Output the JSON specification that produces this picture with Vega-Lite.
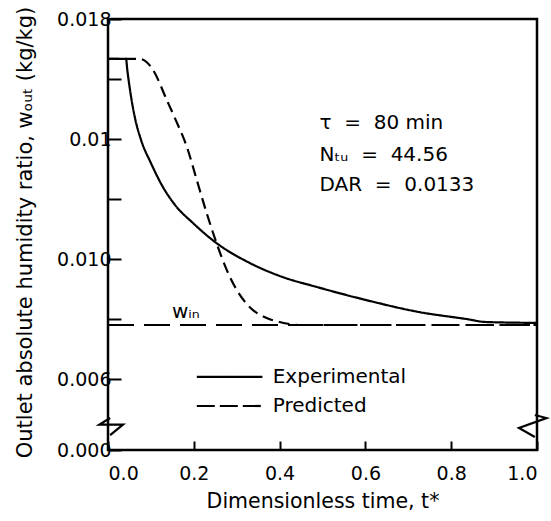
{
  "$schema": "https://vega.github.io/schema/vega-lite/v6.json",
  "width": 429,
  "height": 431,
  "autosize": {"type": "none"},
  "padding": {"left": 108, "top": 19, "right": 14, "bottom": 71},
  "background": "white",
  "config": {
    "font": "DejaVu Sans",
    "view": {"stroke": "black", "strokeWidth": 2.5},
    "axis": {
      "domain": false,
      "grid": false,
      "tickColor": "black",
      "tickWidth": 2,
      "labelColor": "black",
      "labelFont": "DejaVu Sans",
      "labelFontSize": 19,
      "titleFont": "DejaVu Sans",
      "titleFontWeight": "normal",
      "titleColor": "black"
    }
  },
  "datasets": {
    "curves": [
      {"series": "Experimental", "t": 0.0, "w": 0.01667},
      {"series": "Experimental", "t": 0.042, "w": 0.01667},
      {"series": "Experimental", "t": 0.045, "w": 0.0163},
      {"series": "Experimental", "t": 0.048, "w": 0.01597},
      {"series": "Experimental", "t": 0.055, "w": 0.0153},
      {"series": "Experimental", "t": 0.064, "w": 0.01463},
      {"series": "Experimental", "t": 0.077, "w": 0.01397},
      {"series": "Experimental", "t": 0.1, "w": 0.0132},
      {"series": "Experimental", "t": 0.128, "w": 0.0124},
      {"series": "Experimental", "t": 0.158, "w": 0.01177},
      {"series": "Experimental", "t": 0.198, "w": 0.0112},
      {"series": "Experimental", "t": 0.253, "w": 0.01053},
      {"series": "Experimental", "t": 0.33, "w": 0.00987},
      {"series": "Experimental", "t": 0.407, "w": 0.0094},
      {"series": "Experimental", "t": 0.486, "w": 0.00907},
      {"series": "Experimental", "t": 0.602, "w": 0.00863},
      {"series": "Experimental", "t": 0.726, "w": 0.00823},
      {"series": "Experimental", "t": 0.835, "w": 0.008},
      {"series": "Experimental", "t": 0.881, "w": 0.0079},
      {"series": "Experimental", "t": 1.0, "w": 0.00787},
      {"series": "Predicted", "t": 0.0, "w": 0.01667},
      {"series": "Predicted", "t": 0.074, "w": 0.01667},
      {"series": "Predicted", "t": 0.091, "w": 0.01655},
      {"series": "Predicted", "t": 0.105, "w": 0.0163},
      {"series": "Predicted", "t": 0.137, "w": 0.0153},
      {"series": "Predicted", "t": 0.158, "w": 0.01463},
      {"series": "Predicted", "t": 0.184, "w": 0.01373},
      {"series": "Predicted", "t": 0.207, "w": 0.01263},
      {"series": "Predicted", "t": 0.23, "w": 0.01153},
      {"series": "Predicted", "t": 0.253, "w": 0.01053},
      {"series": "Predicted", "t": 0.277, "w": 0.00963},
      {"series": "Predicted", "t": 0.3, "w": 0.00897},
      {"series": "Predicted", "t": 0.33, "w": 0.0084},
      {"series": "Predicted", "t": 0.37, "w": 0.00803},
      {"series": "Predicted", "t": 0.4, "w": 0.0079},
      {"series": "Predicted", "t": 0.45, "w": 0.0078},
      {"series": "Predicted", "t": 1.0, "w": 0.0078},
      {"series": "w_in", "t": 0.0, "w": 0.0078},
      {"series": "w_in", "t": 1.0, "w": 0.0078}
    ],
    "legend": [
      {"series": "Experimental", "t": 0.207, "w": 0.00607},
      {"series": "Experimental", "t": 0.36, "w": 0.00607},
      {"series": "Predicted", "t": 0.207, "w": 0.00372},
      {"series": "Predicted", "t": 0.36, "w": 0.00372}
    ],
    "legendText": [
      {"label": "Experimental", "t": 0.384, "w": 0.00607},
      {"label": "Predicted", "t": 0.384, "w": 0.00372}
    ],
    "notes": [
      {"label": "τ \u00a0=\u00a0 80 min", "t": 0.493, "w": 0.01453},
      {"label": "Nₜᵤ \u00a0=\u00a0 44.56", "t": 0.493, "w": 0.01347},
      {"label": "DAR \u00a0=\u00a0 0.0133", "t": 0.493, "w": 0.01247},
      {"label": "wᵢₙ", "t": 0.149, "w": 0.00823}
    ],
    "breaks": [
      {"side": "left", "k": 1, "t": 0.005, "w": 0.0027},
      {"side": "left", "k": 2, "t": -0.02, "w": 0.00215},
      {"side": "left", "k": 3, "t": 0.035, "w": 0.00215},
      {"side": "left", "k": 4, "t": 0.005, "w": 0.00125},
      {"side": "right", "k": 1, "t": 0.995, "w": 0.00296},
      {"side": "right", "k": 2, "t": 1.022, "w": 0.0027},
      {"side": "right", "k": 3, "t": 0.958, "w": 0.00186},
      {"side": "right", "k": 4, "t": 0.995, "w": 0.0011}
    ]
  },
  "layer": [
    {
      "data": {"name": "curves"},
      "mark": {"type": "line", "color": "black", "strokeWidth": 2.2, "interpolate": "monotone"},
      "encoding": {
        "x": {
          "field": "t", "type": "quantitative",
          "scale": {"domain": [0, 1], "nice": false, "zero": false},
          "axis": {
            "values": [0, 0.2, 0.4, 0.6, 0.8, 1.0],
            "format": ".1f",
            "tickSize": -9,
            "labelPadding": 23,
            "title": "Dimensionless time, t*",
            "titleFontSize": 20.5,
            "titlePadding": 8
          }
        },
        "y": {
          "field": "w", "type": "quantitative",
          "scale": {"domain": [0, 0.006, 0.018], "range": [431, 360, 0], "nice": false, "zero": false},
          "axis": {
            "values": [0, 0.006, 0.008, 0.010, 0.012, 0.014, 0.016, 0.018],
            "labelExpr": "datum.value == 0 ? '0.000' : datum.value == 0.006 ? '0.006' : datum.value == 0.01 ? '0.010' : datum.value == 0.014 ? '0.01' : datum.value == 0.018 ? '0.018' : ''",
            "tickSize": -13,
            "labelPadding": 10,
            "title": "Outlet absolute humidity ratio, wₒᵤₜ (kg/kg)",
            "titleFontSize": 21,
            "titleX": -83,
            "titleY": 213,
            "titleBaseline": "middle",
            "titleAngle": -90
          }
        },
        "strokeDash": {
          "field": "series", "type": "nominal",
          "scale": {"domain": ["Experimental", "Predicted", "w_in"], "range": [[1, 0], [11, 6], [26, 10]]},
          "legend": null
        }
      }
    },
    {
      "data": {"name": "legend"},
      "mark": {"type": "line", "color": "black", "strokeWidth": 2.2},
      "encoding": {
        "x": {"field": "t", "type": "quantitative"},
        "y": {"field": "w", "type": "quantitative"},
        "strokeDash": {
          "field": "series", "type": "nominal",
          "scale": {"domain": ["Experimental", "Predicted"], "range": [[1, 0], [18, 5]]},
          "legend": null
        }
      }
    },
    {
      "data": {"name": "legendText"},
      "mark": {"type": "text", "align": "left", "baseline": "middle", "fontSize": 20, "color": "black"},
      "encoding": {
        "x": {"field": "t", "type": "quantitative"},
        "y": {"field": "w", "type": "quantitative"},
        "text": {"field": "label"}
      }
    },
    {
      "data": {"name": "notes"},
      "mark": {"type": "text", "align": "left", "baseline": "middle", "fontSize": 20, "color": "black"},
      "encoding": {
        "x": {"field": "t", "type": "quantitative"},
        "y": {"field": "w", "type": "quantitative"},
        "text": {"field": "label"}
      }
    },
    {
      "data": {"name": "breaks"},
      "mark": {"type": "line", "color": "black", "strokeWidth": 2.2, "clip": false},
      "encoding": {
        "x": {"field": "t", "type": "quantitative"},
        "y": {"field": "w", "type": "quantitative"},
        "detail": {"field": "side"},
        "order": {"field": "k", "type": "quantitative"}
      }
    }
  ],
  "resolve": {"scale": {"strokeDash": "independent"}}
}
